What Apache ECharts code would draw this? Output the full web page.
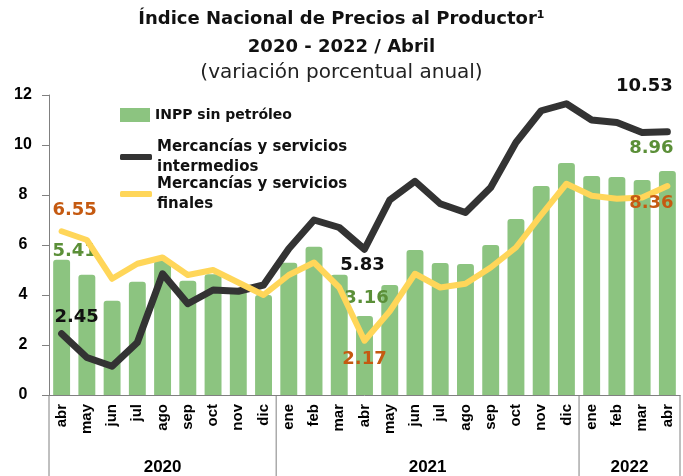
<!DOCTYPE html>
<html><head><meta charset="utf-8">
<script src="https://cdn.jsdelivr.net/npm/echarts@6/dist/echarts.min.js"></script>
<style>html,body{margin:0;padding:0;background:#fff}#c{width:683px;height:476px}</style>
</head><body><div id="c"></div>
<script>
const months = ['abr','may','jun','jul','ago','sep','oct','nov','dic','ene','feb','mar','abr','may','jun','jul','ago','sep','oct','nov','dic','ene','feb','mar','abr'];
const years = ['2020','2021','2022'];
const monthsPerYear = [9, 12, 4];
const inppSinPetroleo = [5.41,4.81,3.77,4.53,5.37,4.57,4.83,4.2,4.0,5.29,5.93,4.81,3.16,4.4,5.8,5.28,5.24,6.0,7.04,8.36,9.28,8.76,8.72,8.6,8.96];
const intermedios = [2.45,1.5,1.15,2.1,4.85,3.65,4.2,4.15,4.4,5.85,7.0,6.7,5.83,7.8,8.55,7.65,7.3,8.3,10.1,11.37,11.65,11.0,10.9,10.5,10.53];
const finales = [6.55,6.2,4.65,5.25,5.5,4.8,5.0,4.5,4.0,4.8,5.3,4.3,2.17,3.35,4.85,4.3,4.45,5.1,5.9,7.2,8.45,7.97,7.85,7.9,8.36];
const seriesNames = ['INPP sin petróleo','Mercancías y servicios\nintermedios','Mercancías y servicios\nfinales'];
const yTicks = [0,2,4,6,8,10,12];

const GREEN='#8cc480', GREEN_TXT='#5b8f38', BLACK='#333333', YELLOW='#ffd659', ORANGE='#c55a11';
const labelFont = {fontFamily:'DejaVu Sans', fontWeight:'bold', fontSize:18};

// which points carry a value label: index -> [position, offset]
const barLabels = {0:['top',[13,6]], 12:['top',[2,-4]], 24:['top',[-16,-9]]};
const blackLabels = {0:['top',[15,-2]], 12:['bottom',[-2,2]], 24:['top',[-23,-31]]};
const yellowLabels = {0:['top',[13,-7]], 12:['bottom',[0,5]], 24:['bottom',[-16,3]]};

function withLabels(arr, marks, color){
  return arr.map((v,i)=>{
    const m = marks[i];
    if(!m) return v;
    return {value:v, label:{show:true, position:m[0], offset:m[1], color:color, ...labelFont, formatter:(p)=>p.value.toFixed(2)}};
  });
}

const chart = echarts.init(document.getElementById('c'), null, {renderer:'canvas'});
const option = {
  animation:false,
  backgroundColor:'#fff',
  title:{
    left:'center', top:0, itemGap:0,
    text:'Índice Nacional de Precios al Productor¹\n2020 - 2022 / Abril',
    textStyle:{fontFamily:'DejaVu Sans', fontWeight:'bold', fontSize:18, lineHeight:28, color:'#111'},
    subtext:'(variación porcentual anual)',
    subtextStyle:{fontFamily:'DejaVu Sans', fontWeight:'normal', fontSize:20, lineHeight:24, color:'#222'}
  },
  legend:[
    {data:[seriesNames[0]], left:115, top:103, icon:'rect', itemWidth:30, itemHeight:14,
     textStyle:{fontFamily:'DejaVu Sans', fontWeight:'bold', fontSize:14, color:'#111'}},
    {data:[seriesNames[1], seriesNames[2]], orient:'vertical', left:115, top:122, icon:'roundRect',
     itemWidth:32, itemHeight:6, itemGap:-23,
     textStyle:{fontFamily:'DejaVu Sans', fontWeight:'bold', fontSize:15, lineHeight:20, padding:[20,0,0,0], color:'#111'}}
  ],
  grid:{left:49, right:3, top:95, bottom:81},
  xAxis:{
    type:'category', data:months, boundaryGap:true,
    axisLine:{show:true, lineStyle:{color:'#808080', width:1}},
    axisTick:{show:false},
    axisLabel:{interval:0, rotate:90, margin:9, color:'#000', fontFamily:'Liberation Sans', fontWeight:'bold', fontSize:15}
  },
  yAxis:{
    type:'value', min:yTicks[0], max:yTicks[yTicks.length-1], interval:2,
    splitLine:{show:false},
    axisLine:{show:true, lineStyle:{color:'#808080', width:1}},
    axisTick:{show:true, length:7, lineStyle:{color:'#808080'}},
    axisLabel:{margin:26, align:'center', color:'#000', fontFamily:'Liberation Sans', fontWeight:'bold', fontSize:16}
  },
  series:[
    {name:seriesNames[0], type:'bar', barWidth:'67%', data:withLabels(inppSinPetroleo, barLabels, GREEN_TXT),
     itemStyle:{color:GREEN, borderRadius:[3,3,0,0]}, z:2},
    {name:seriesNames[1], type:'line', data:withLabels(intermedios, blackLabels, '#111'),
     symbol:'circle', symbolSize:0, showSymbol:true, itemStyle:{color:BLACK},
     lineStyle:{color:BLACK, width:7, cap:'round', join:'round'}, z:3},
    {name:seriesNames[2], type:'line', data:withLabels(finales, yellowLabels, ORANGE),
     symbol:'circle', symbolSize:0, showSymbol:true, itemStyle:{color:YELLOW},
     lineStyle:{color:YELLOW, width:6, cap:'round', join:'round'}, z:4}
  ]
};
chart.setOption(option);

// year grouping lines and labels under the month axis, placed via the axis scale
const x0 = chart.convertToPixel({xAxisIndex:0}, 0);
const x1 = chart.convertToPixel({xAxisIndex:0}, 1);
const band = x1 - x0;
const yZero = chart.convertToPixel({yAxisIndex:0}, 0);
const graphics = [];
let start = 0;
const boundary = (i)=> chart.convertToPixel({xAxisIndex:0}, i) - band/2;
graphics.push({type:'line', shape:{x1:boundary(0), y1:yZero, x2:boundary(0), y2:476}, style:{stroke:'#808080', lineWidth:1}});
monthsPerYear.forEach((n, k)=>{
  const end = start + n;
  const xl = boundary(start), xr = boundary(end);
  graphics.push({type:'line', shape:{x1:xr, y1:yZero, x2:xr, y2:476}, style:{stroke:'#808080', lineWidth:1}});
  graphics.push({type:'text', x:(xl+xr)/2, y:467, style:{text:years[k], align:'center', verticalAlign:'middle', fill:'#000', font:'bold 17px "Liberation Sans"'}});
  start = end;
});
chart.setOption({graphic:graphics});
</script>
</body></html>
